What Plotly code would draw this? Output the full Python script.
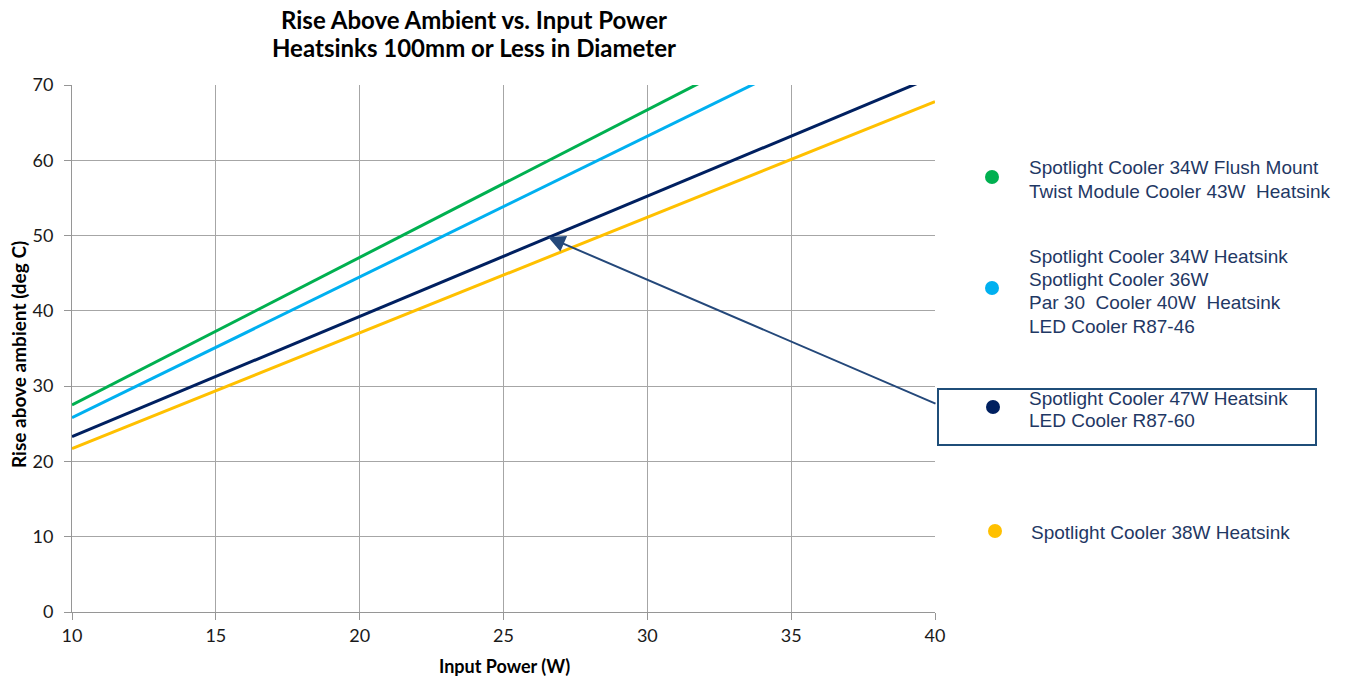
import plotly.graph_objects as go

# Data (straight lines; end values read/extrapolated)
x_power = [10, 30, 40]
green_y = [27.5, 66.7, 86.3]
blue_y = [25.8, 63.2, 81.9]
navy_y = [23.3, 55.2, 71.2]
yellow_y = [21.7, 52.5, 67.8]

series_names = ["green", "blue", "navy", "yellow"]
series_colors = ["#00B050", "#00B0F0", "#002060", "#FFC000"]
series_values = [green_y, blue_y, navy_y, yellow_y]

legend_labels = [
    ["Spotlight Cooler 34W Flush Mount", "Twist Module Cooler 43W  Heatsink"],
    ["Spotlight Cooler 34W Heatsink", "Spotlight Cooler 36W",
     "Par 30  Cooler 40W  Heatsink", "LED Cooler R87-46"],
    ["Spotlight Cooler 47W Heatsink", "LED Cooler R87-60"],
    ["Spotlight Cooler 38W Heatsink"],
]

x_ticks = [10, 15, 20, 25, 30, 35, 40]
y_ticks = [0, 10, 20, 30, 40, 50, 60, 70]

W, H = 1347, 679
PL, PR, PT, PB = 72, 935, 85, 612  # plot area in page pixels
L, T = PL, PT
R = W - PR
B = H - PB
PW, PH = PR - PL, PB - PT

def px(xp):
    return (xp - PL) / PW

def py(yp):
    return (PB - yp) / PH

fig = go.Figure()
for name, col, vals in zip(series_names, series_colors, series_values):
    fig.add_trace(go.Scatter(x=x_power, y=vals, mode="lines", name=name,
                             line=dict(color=col, width=3), showlegend=False,
                             hoverinfo="skip"))

annotations = []
shapes = []

# Title
annotations.append(dict(text="<b>Rise Above Ambient vs. Input Power</b>", x=px(474), y=py(19),
                        xref="paper", yref="paper", showarrow=False, xanchor="center", yanchor="middle",
                        font=dict(family="Lato", size=24, color="#000000")))
annotations.append(dict(text="<b>Heatsinks 100mm or Less in Diameter</b>", x=px(474), y=py(48),
                        xref="paper", yref="paper", showarrow=False, xanchor="center", yanchor="middle",
                        font=dict(family="Lato", size=24, color="#000000")))

# Axis titles
annotations.append(dict(text="<b>Input Power (W)</b>", x=px(504), y=py(666),
                        xref="paper", yref="paper", showarrow=False, xanchor="center", yanchor="middle",
                        font=dict(family="Lato", size=18, color="#000000")))
annotations.append(dict(text="<b>Rise above ambient (deg C)</b>", x=px(18), y=py(355), textangle=-90,
                        xref="paper", yref="paper", showarrow=False, xanchor="center", yanchor="middle",
                        font=dict(family="Lato", size=19, color="#000000")))

# Custom legend
marker_pos = [(992, 177), (992, 288), (993, 407), (995, 531)]
line_y = [[167, 191], [256, 279, 302, 326], [398, 420], [532]]
text_x = [1027, 1027, 1027, 1029]
for i, labels in enumerate(legend_labels):
    mx, my = marker_pos[i]
    shapes.append(dict(type="circle", xref="paper", yref="paper", xsizemode="pixel", ysizemode="pixel",
                       xanchor=px(mx), yanchor=py(my), x0=-7, x1=7, y0=-7, y1=7,
                       fillcolor=series_colors[i], line=dict(width=0)))
    for lab, ly in zip(labels, line_y[i]):
        annotations.append(dict(text=lab, x=px(text_x[i]), y=py(ly), xref="paper", yref="paper",
                                showarrow=False, xanchor="left", yanchor="middle",
                                font=dict(family="Liberation Sans", size=19, color="#1F3864")))

# Callout box
shapes.append(dict(type="rect", xref="paper", yref="paper", x0=px(938), x1=px(1316), y0=py(445), y1=py(389),
                   line=dict(color="#1F4E79", width=2), fillcolor="rgba(0,0,0,0)"))

# Arrow pointing to navy line
annotations.append(dict(x=26.55, y=49.8, ax=40.07, ay=27.6, xref="x", yref="y", axref="x", ayref="y",
                        text="", showarrow=True, arrowhead=2, arrowsize=1.7, arrowwidth=2,
                        arrowcolor="#24487A", standoff=0))

axis_common = dict(showgrid=True, gridcolor="#A6A6A6", gridwidth=1,
                   showline=True, linecolor="#969696", linewidth=1, ticks="outside", ticklen=7,
                   tickcolor="#969696", zeroline=False,
                   tickfont=dict(family="Lato", size=18, color="#1A1A1A"))

fig.update_layout(
    width=W, height=H, autosize=False,
    margin=dict(l=L, r=R, t=T, b=B, pad=0),
    paper_bgcolor="white", plot_bgcolor="white",
    annotations=annotations, shapes=shapes,
    xaxis=dict(range=[10, 40], tickvals=x_ticks, **axis_common),
    yaxis=dict(range=[0, 70], tickvals=y_ticks, ticklabelstandoff=7, **axis_common),
)

fig.write_html("out.html", config={"displayModeBar": False},
               post_script="document.body.style.margin='0px';document.body.style.overflow='hidden';")
